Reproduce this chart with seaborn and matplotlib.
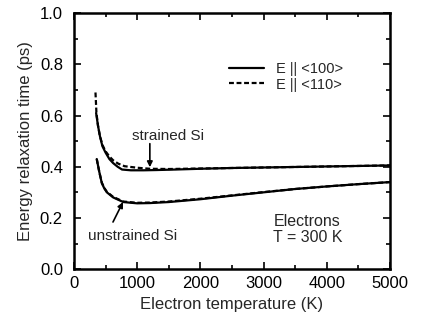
import matplotlib
matplotlib.use("Agg")
import matplotlib.pyplot as plt
import seaborn as sns
import pandas as pd
from matplotlib.ticker import MultipleLocator

# Data
T_str_100 = [350, 380, 410, 450, 500, 560, 620, 690, 760, 900, 1100, 1300, 1600, 2000, 2500, 3000, 3500, 4000, 4500, 5000]
tau_str_100 = [0.61, 0.56, 0.52, 0.48, 0.455, 0.43, 0.414, 0.40, 0.389, 0.386, 0.386, 0.387, 0.389, 0.392, 0.395, 0.397, 0.399, 0.401, 0.403, 0.405]

T_str_110 = [340, 355, 380, 410, 450, 500, 560, 620, 700, 800, 1000, 1200, 1500, 2000, 2500, 3000, 3500, 4000, 4500, 5000]
tau_str_110 = [0.69, 0.61, 0.56, 0.52, 0.485, 0.46, 0.44, 0.425, 0.412, 0.402, 0.396, 0.392, 0.391, 0.393, 0.395, 0.397, 0.399, 0.401, 0.403, 0.405]

T_uns_100 = [360, 400, 440, 480, 520, 620, 780, 1000, 1200, 1500, 2000, 2500, 3000, 3500, 4000, 4500, 5000]
tau_uns_100 = [0.43, 0.38, 0.336, 0.315, 0.30, 0.28, 0.262, 0.257, 0.258, 0.262, 0.273, 0.287, 0.30, 0.313, 0.323, 0.332, 0.34]

T_uns_110 = [360, 400, 440, 480, 520, 620, 780, 1000, 1200, 1500, 2000, 2500, 3000, 3500, 4000, 4500, 5000]
tau_uns_110 = [0.43, 0.38, 0.338, 0.317, 0.302, 0.282, 0.264, 0.259, 0.26, 0.264, 0.275, 0.288, 0.301, 0.313, 0.323, 0.332, 0.34]

legend_labels = ["E || <100>", "E || <110>"]

sns.set_style("ticks")
plt.rcParams['font.family'] = ['Liberation Sans', 'DejaVu Sans']

fig = plt.figure(figsize=(4.24, 3.2), dpi=100)
ax = fig.add_axes([0.1745, 0.159, 0.7455, 0.8])

lw = 1.6
dash = (0, (2.2, 1.2))
sns.lineplot(x=T_str_100, y=tau_str_100, ax=ax, color="black", lw=lw, sort=False, label=legend_labels[0])
sns.lineplot(x=T_str_110, y=tau_str_110, ax=ax, color="black", lw=lw, sort=False, linestyle=dash, label=legend_labels[1])
sns.lineplot(x=T_uns_100, y=tau_uns_100, ax=ax, color="black", lw=lw, sort=False)
sns.lineplot(x=T_uns_110, y=tau_uns_110, ax=ax, color="black", lw=lw, sort=False, linestyle=dash)

ax.set_xlim(0, 5000)
ax.set_ylim(0, 1.0)
ax.xaxis.set_major_locator(MultipleLocator(1000))
ax.xaxis.set_minor_locator(MultipleLocator(500))
ax.yaxis.set_major_locator(MultipleLocator(0.2))
ax.yaxis.set_minor_locator(MultipleLocator(0.1))
ax.yaxis.set_major_formatter(matplotlib.ticker.FormatStrFormatter('%.1f'))
ax.tick_params(which='both', direction='in', top=True, right=True, width=1.2, labelsize=12, colors='black')
ax.tick_params(which='major', length=5)
ax.tick_params(axis='y', which='major', pad=8)
ax.tick_params(axis='x', which='major', pad=5)
ax.tick_params(which='minor', length=3)
for s in ax.spines.values():
    s.set_linewidth(1.8)
    s.set_color('black')

ax.set_xlabel("Electron temperature (K)", fontsize=12, labelpad=4)
ax.set_ylabel("Energy relaxation time (ps)", fontsize=12, labelpad=5)

leg = ax.legend(loc='upper left', bbox_to_anchor=(0.49, 0.81), frameon=False, fontsize=10.5,
                handlelength=2.4, handletextpad=0.8, labelspacing=0.12, borderpad=0, borderaxespad=0)

ax.text(1490, 0.52, "strained Si", fontsize=11, ha='center', va='center')
ax.annotate("", xy=(1200, 0.398), xytext=(1200, 0.49),
            arrowprops=dict(arrowstyle='-|>', color='black', lw=1.2, mutation_scale=8, shrinkA=0, shrinkB=0))
ax.text(220, 0.13, "unstrained Si", fontsize=11, ha='left', va='center')
ax.annotate("", xy=(775, 0.262), xytext=(617, 0.184),
            arrowprops=dict(arrowstyle='-|>', color='black', lw=1.2, mutation_scale=8, shrinkA=0, shrinkB=0))
ax.text(3690, 0.155, "Electrons\nT = 300 K", fontsize=11.5, ha='center', va='center', linespacing=1.05)

fig.savefig("out.png", dpi=100)
